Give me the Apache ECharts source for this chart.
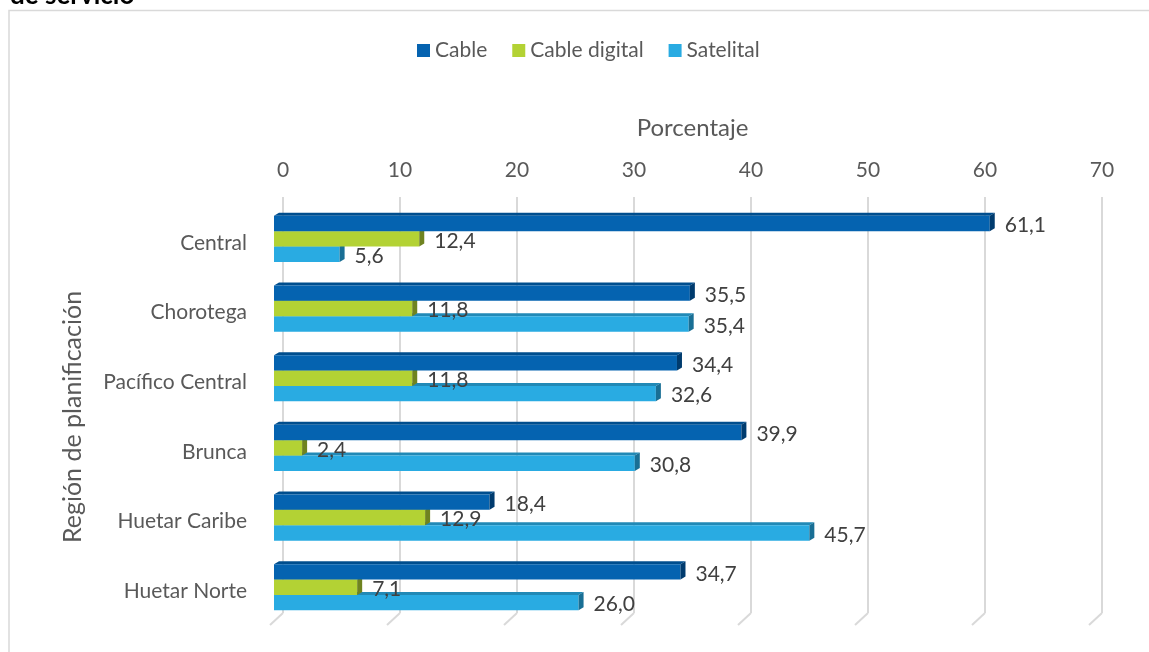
<!DOCTYPE html>
<html>
<head>
<meta charset="utf-8">
<script src="https://cdn.jsdelivr.net/npm/echarts@6/dist/echarts.min.js"></script>
<style>
  html, body { margin: 0; padding: 0; background: #ffffff; }
  #chart { width: 1149px; height: 652px; }
</style>
</head>
<body>
<div id="chart"></div>
<script>
// Regions and the share (%) of each type of service
const categories = ['Central', 'Chorotega', 'Pacífico Central', 'Brunca', 'Huetar Caribe', 'Huetar Norte'];
const cable = [61.1, 35.5, 34.4, 39.9, 18.4, 34.7];
const cableDigital = [12.4, 11.8, 11.8, 2.4, 12.9, 7.1];
const satelital = [5.6, 35.4, 32.6, 30.8, 45.7, 26.0];
const seriesNames = ['Cable', 'Cable digital', 'Satelital'];
const xTicks = [0, 10, 20, 30, 40, 50, 60, 70];

const FONT = 'Lato, "DejaVu Sans", sans-serif';
const TEXT = '#595959';
const GRID = '#d9d9d9';

// front, top and side shades for each series
const palettes = [
  { front: '#0563B0', top: '#004E8E', side: '#003B6E' },
  { front: '#B3D234', top: '#93AD2A', side: '#6F8320' },
  { front: '#29ABE2', top: '#2189B6', side: '#196F95' }
];

const fmt = v => v.toFixed(1).replace('.', ',');

// Draws one bar as a small extruded block: front face, top face, right side, value label
function makeBlock(sIdx) {
  const pal = palettes[sIdx];
  return function (params, api) {
    const val = api.value(0);
    const idx = api.value(1);
    const base = api.coord([0, idx]);
    const tip = api.coord([val, idx]);
    const band = api.size([0, 1])[1];
    const h = band * 0.221;
    const dx = 5, dy = 3;
    const y = base[1] - band * 0.388 + sIdx * h;
    const x0 = base[0], x1 = tip[0];
    return {
      type: 'group',
      children: [
        {
          type: 'polygon',
          shape: { points: [[x0, y], [x0 + dx, y - dy], [x1 + dx, y - dy], [x1, y]] },
          style: { fill: pal.top }
        },
        {
          type: 'rect',
          shape: { x: x0, y: y, width: x1 - x0, height: h },
          style: { fill: pal.front }
        },
        {
          type: 'polygon',
          shape: { points: [[x1, y], [x1 + dx, y - dy], [x1 + dx, y + h - dy], [x1, y + h]] },
          style: { fill: pal.side }
        },
        {
          type: 'text',
          x: x1 + dx + 10,
          y: y + h / 2 + 2,
          style: {
            text: fmt(val),
            fill: '#404040',
            font: '21px ' + FONT,
            align: 'left',
            verticalAlign: 'middle'
          }
        }
      ]
    };
  };
}

// Floor edges: short slanted strokes at the foot of each gridline
function floorEdge(params, api) {
  const p = api.coord([api.value(0), 0]);
  return {
    type: 'line',
    shape: { x1: p[0], y1: p[1], x2: p[0] - 13, y2: p[1] + 12 },
    style: { stroke: GRID, lineWidth: 2 }
  };
}

const values = [cable, cableDigital, satelital];

const chart = echarts.init(document.getElementById('chart'), null, { renderer: 'canvas' });

chart.setOption({
  animation: false,
  backgroundColor: '#ffffff',
  textStyle: { fontFamily: FONT },
  graphic: [
    {
      type: 'rect',
      shape: { x: 9, y: 10.5, width: 1200, height: 700 },
      style: { fill: 'none', stroke: GRID, lineWidth: 1.5 },
      z: -10
    },
    {
      type: 'text',
      x: 10,
      y: -17,
      style: {
        text: 'de servicio',
        fill: '#000000',
        font: 'bold 26px ' + FONT,
        align: 'left',
        verticalAlign: 'top'
      }
    }
  ],
  legend: {
    data: seriesNames,
    left: 412,
    top: 35,
    icon: 'rect',
    itemWidth: 13,
    itemHeight: 13,
    itemGap: 25,
    textStyle: { fontSize: 21, color: TEXT, fontFamily: FONT }
  },
  grid: [
    { left: 283, width: 819, top: 197, height: 416 },
    { left: 274, width: 820, top: 208, height: 418 }
  ],
  xAxis: [
    {
      gridIndex: 0,
      type: 'value',
      position: 'top',
      min: xTicks[0],
      max: xTicks[xTicks.length - 1],
      interval: xTicks[1] - xTicks[0],
      name: 'Porcentaje',
      nameLocation: 'middle',
      nameGap: 57,
      nameTextStyle: { fontSize: 24, color: TEXT, fontFamily: FONT },
      axisLine: { show: false },
      axisTick: { show: false },
      axisLabel: { fontSize: 21, color: TEXT, margin: 16, fontFamily: FONT },
      splitLine: { show: true, lineStyle: { color: GRID, width: 2 } }
    },
    {
      gridIndex: 1,
      type: 'value',
      min: xTicks[0],
      max: xTicks[xTicks.length - 1],
      show: false
    }
  ],
  yAxis: [
    {
      gridIndex: 1,
      type: 'category',
      data: categories,
      inverse: true,
      name: 'Región de planificación',
      nameLocation: 'middle',
      nameGap: 189,
      nameRotate: 90,
      nameTextStyle: { fontSize: 25, color: TEXT, fontFamily: FONT },
      axisLine: { show: false },
      axisTick: { show: false },
      splitLine: { show: false },
      axisLabel: { fontSize: 21, color: TEXT, margin: 27, fontFamily: FONT }
    },
    {
      gridIndex: 0,
      type: 'value',
      min: 0,
      max: 1,
      show: false
    }
  ],
  series: [
    {
      type: 'custom',
      name: 'floor',
      silent: true,
      xAxisIndex: 0,
      yAxisIndex: 1,
      z: 1,
      renderItem: floorEdge,
      encode: { x: 0, y: 1 },
      data: xTicks.map(t => [t, 0])
    }
  ].concat(seriesNames.map((name, s) => ({
    type: 'custom',
    name: name,
    xAxisIndex: 1,
    yAxisIndex: 0,
    z: 10 - s,
    itemStyle: { color: palettes[s].front },
    renderItem: makeBlock(s),
    encode: { x: 0, y: 1 },
    data: values[s].map((v, i) => [v, i])
  })))
});
</script>
</body>
</html>
